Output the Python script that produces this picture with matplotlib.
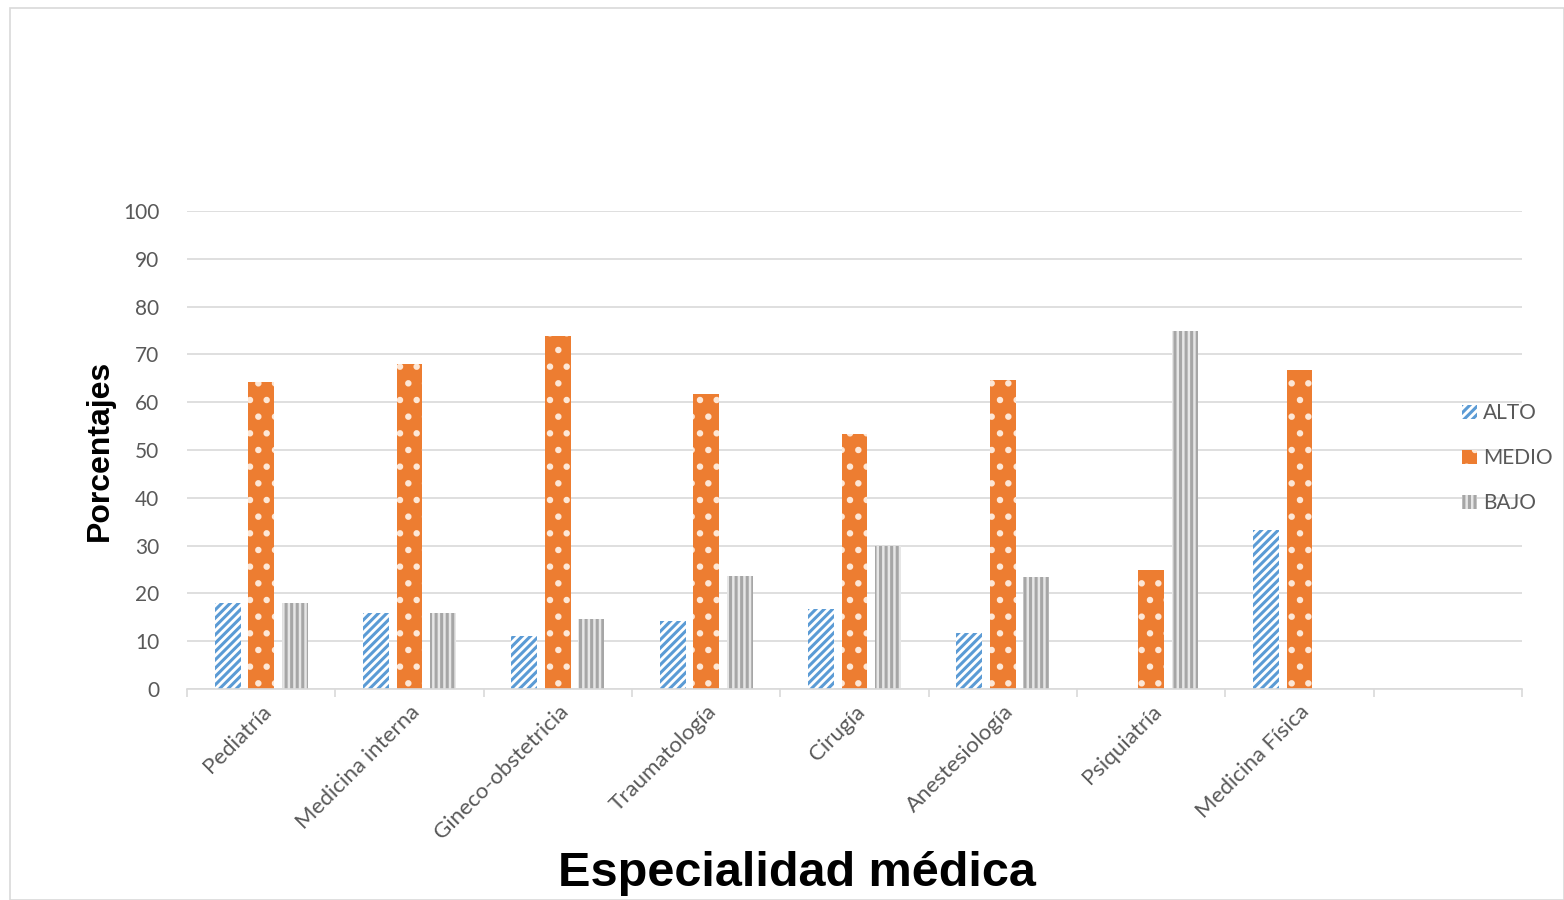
import numpy as np
import matplotlib.pyplot as plt
import matplotlib.transforms as mtransforms
from matplotlib.patches import Rectangle

plt.rcParams['hatch.linewidth'] = 2.2

especialidades = ['Pediatría', 'Medicina interna', 'Gineco-obstetricia', 'Traumatología',
                  'Cirugía', 'Anestesiología', 'Psiquiatría', 'Medicina Física', '']
alto = [17.9, 15.9, 11.1, 14.2, 16.7, 11.7, 0, 33.3, 0]
medio = [64.2, 67.9, 73.9, 61.8, 53.3, 64.7, 25.0, 66.7, 0]
bajo = [17.9, 16.0, 14.7, 23.7, 30.0, 23.5, 75.0, 0, 0]

fig = plt.figure(figsize=(15.64, 9), dpi=100)
fig.patches.append(Rectangle((10 / 1564, 0), 1 - 10 / 1564, 1 - 8 / 900, transform=fig.transFigure,
                             fill=False, edgecolor='#d9d9d9', linewidth=1.2))
ax = fig.add_axes([187 / 1564, 1 - 689 / 900, (1522 - 187) / 1564, (689 - 211) / 900])

x = np.arange(len(especialidades))
w = 0.175
off = 0.226
ax.bar(x - off, alto, w, color='white', edgecolor='#5b9bd5', hatch='////', linewidth=0, label='ALTO')
ax.bar(x, medio, w, color='#ed7d31', edgecolor='#fde7d6', hatch='.', linewidth=0, label='MEDIO')
ax.bar(x + off, bajo, w, color='#e6e6e6', edgecolor='#a6a6a6', hatch='|||', linewidth=0, label='BAJO')

ax.set_xlim(-0.5, len(especialidades) - 0.5)
ax.set_ylim(0, 100)
ax.set_yticks(range(0, 101, 10))
ax.yaxis.grid(True, color='#d9d9d9', linewidth=1.2)
ax.set_axisbelow(True)
for s in ['top', 'right', 'left']:
    ax.spines[s].set_visible(False)
ax.spines['bottom'].set_color('#d9d9d9')
ax.spines['bottom'].set_linewidth(1.2)

ax.set_xticks(x)
ax.set_xticklabels(especialidades, rotation=45, ha='right', rotation_mode='anchor',
                   fontsize=16, color='#595959', family='Lato')
shift = mtransforms.ScaledTranslation(-7 / 100, 2 / 100, fig.dpi_scale_trans)
for t in ax.get_xticklabels():
    t.set_transform(t.get_transform() + shift)
ax.set_xticks(np.arange(-0.5, len(especialidades)), minor=True)
ax.tick_params(axis='x', which='major', length=0, pad=9)
ax.tick_params(axis='x', which='minor', length=6, color='#d9d9d9', width=1.2)
ax.tick_params(axis='y', length=0, labelsize=15, labelcolor='#595959', pad=20)
for t in ax.get_yticklabels():
    t.set_family('Lato')

fig.text(100 / 1564, 1 - 450 / 900, 'Porcentajes', rotation=90, ha='center', va='center',
         fontsize=23, fontweight='bold', family='Liberation Sans')
fig.text(797 / 1564, 1 - 873 / 900, 'Especialidad médica', ha='center', va='center',
         fontsize=35, fontweight='bold', family='Liberation Sans')

leg = ax.legend(loc='center left', bbox_to_anchor=(0.941, 0.483), frameon=False,
                prop={'family': 'Lato', 'size': 15}, handlelength=0.7, handleheight=0.7,
                handletextpad=0.3, labelspacing=1.2)
for t in leg.get_texts():
    t.set_color('#595959')

fig.savefig('out.png', dpi=100)
